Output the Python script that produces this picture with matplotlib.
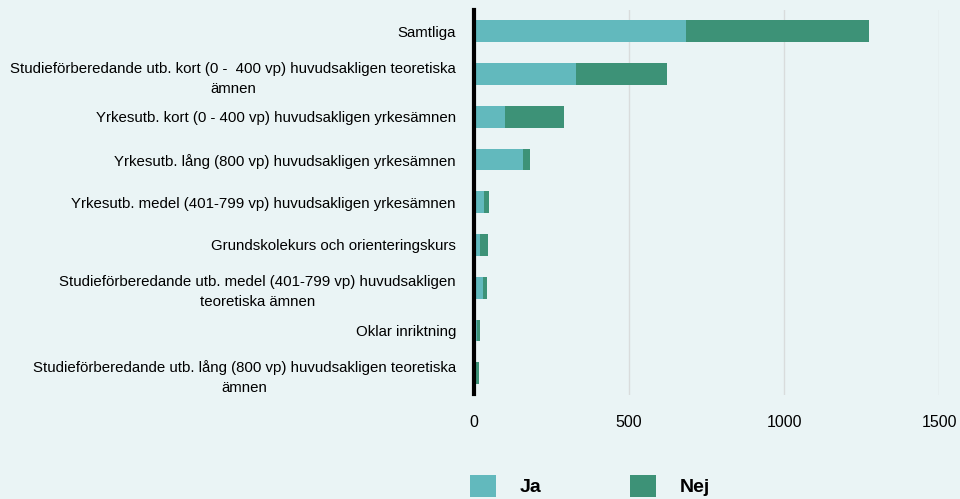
import matplotlib.pyplot as plt
import numpy as np

plt.rcParams['font.family'] = ['Liberation Sans', 'DejaVu Sans']

kategorier = [
    "Samtliga",
    "Studieförberedande utb. kort (0 -  400 vp) huvudsakligen teoretiska\nämnen",
    "Yrkesutb. kort (0 - 400 vp) huvudsakligen yrkesämnen",
    "Yrkesutb. lång (800 vp) huvudsakligen yrkesämnen",
    "Yrkesutb. medel (401-799 vp) huvudsakligen yrkesämnen",
    "Grundskolekurs och orienteringskurs",
    "Studieförberedande utb. medel (401-799 vp) huvudsakligen\nteoretiska ämnen",
    "Oklar inriktning",
    "Studieförberedande utb. lång (800 vp) huvudsakligen teoretiska\nämnen",
]
ja = [682, 328, 99, 157, 32, 19, 28, 10, 3]
nej = [590, 294, 191, 25, 15, 26, 13, 9, 14]

bg = "#eaf4f5"
farg_ja = "#62b9bd"
farg_nej = "#3d9277"

fig = plt.figure(figsize=(9.6, 4.99), dpi=100, facecolor=bg)
ax = fig.add_axes([474 / 960, 1 - 394.5 / 499, (939.3 - 474) / 960, 384.5 / 499])
ax.set_facecolor(bg)

y = np.arange(len(kategorier))
b1 = ax.barh(y, ja, height=0.51, color=farg_ja, label="Ja", zorder=3)
b2 = ax.barh(y, nej, left=ja, height=0.51, color=farg_nej, label="Nej", zorder=3)

ax.set_ylim(len(kategorier) - 0.5, -0.5)
ax.set_xlim(0, 1500)
ax.set_xticks([0, 500, 1000, 1500])
ax.set_yticks(y)
ax.set_yticklabels(kategorier, fontsize=10.8, multialignment="center", linespacing=1.55)
ax.tick_params(axis="y", length=0, pad=13)
ax.tick_params(axis="x", length=0, pad=15, labelsize=11.5)

ax.grid(axis="x", color="#d9dcdc", linewidth=1, zorder=0)
for s in ["top", "right", "bottom"]:
    ax.spines[s].set_visible(False)
ax.spines["left"].set_linewidth(3)
ax.spines["left"].set_color("black")
ax.spines["left"].set_zorder(4)

# legenden ligger delvis utanför bildkanten, som i originalet
fig.legend(handles=[b1, b2], loc="upper left", bbox_to_anchor=(470 / 960, 1 - 475 / 499),
           ncol=2, frameon=False, prop={"weight": "bold", "size": 14},
           handlelength=1.35, handleheight=1.35, handletextpad=1.2,
           columnspacing=4.55, borderpad=0, borderaxespad=0)

plt.savefig("out.png", dpi=100, facecolor=bg)
